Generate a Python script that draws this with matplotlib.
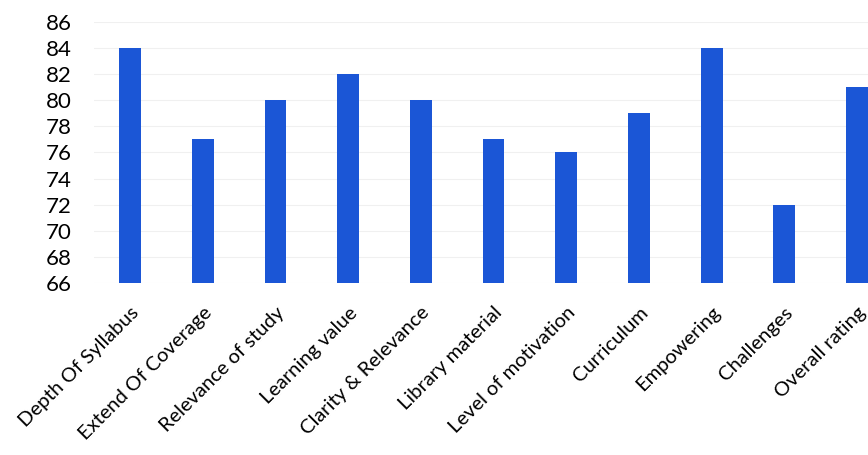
import matplotlib.pyplot as plt

categories = ['Depth Of Syllabus', 'Extend Of Coverage', 'Relevance of study', 'Learning value',
              'Clarity & Relevance', 'Library material', 'Level of motivation', 'Curriculum',
              'Empowering', 'Challenges', 'Overall rating']
scores = [84, 77, 80, 82, 80, 77, 76, 79, 84, 72, 81]
y_ticks = list(range(66, 87, 2))

plt.rcParams['font.family'] = ['Lato', 'DejaVu Sans']

fig = plt.figure(figsize=(8.68, 4.55), dpi=100)
ax = fig.add_axes([0.108, 0.378, 0.892, 0.574])

x = range(len(categories))
ax.bar(x, [s - 66 for s in scores], bottom=66, width=0.3, color='#1b56d6', zorder=2)

ax.set_ylim(66, 86)
ax.set_yticks(y_ticks)
ax.set_xlim(-0.5, 10.15)
ax.set_xticks(list(x))
ax.set_xticklabels(categories, rotation=45, ha='right', rotation_mode='anchor', fontsize=14.5)
ax.tick_params(axis='y', labelsize=16, length=0, pad=16)
ax.tick_params(axis='x', length=0, pad=15)
ax.grid(axis='y', color='#f0f0f0', linewidth=0.8, zorder=0)

for s in ax.spines.values():
    s.set_visible(False)

fig.savefig('out.png', dpi=100)
